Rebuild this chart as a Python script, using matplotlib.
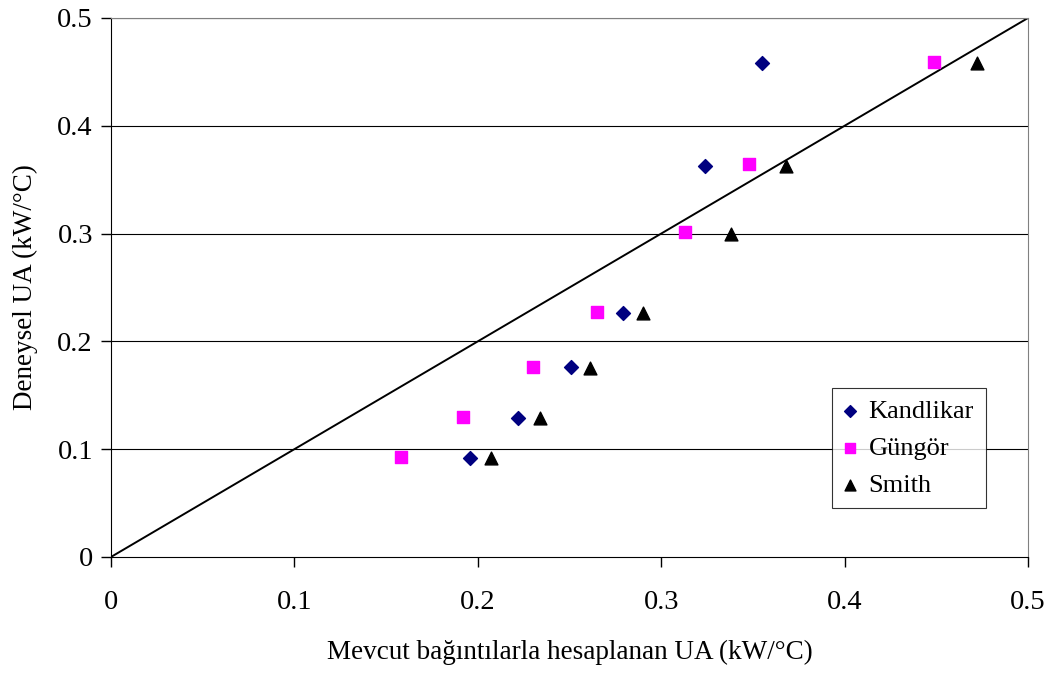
import matplotlib

matplotlib.use("Agg")
import matplotlib.pyplot as plt

# Values
kandlikar_x = [0.355, 0.324, 0.279, 0.251, 0.222, 0.196]
kandlikar_y = [0.458, 0.363, 0.226, 0.176, 0.129, 0.092]

gungor_x = [0.449, 0.348, 0.313, 0.265, 0.230, 0.192, 0.158]
gungor_y = [0.459, 0.365, 0.301, 0.227, 0.176, 0.130, 0.093]

smith_x = [0.472, 0.368, 0.338, 0.290, 0.261, 0.234, 0.207]
smith_y = [0.458, 0.363, 0.300, 0.226, 0.175, 0.129, 0.092]

ticks = [0, 0.1, 0.2, 0.3, 0.4, 0.5]
tick_labels = ["0", "0.1", "0.2", "0.3", "0.4", "0.5"]

plt.rcParams["font.family"] = ["Liberation Serif", "DejaVu Serif"]

fig = plt.figure(figsize=(10.49, 6.73), dpi=100)
ax = fig.add_axes([0.1058, 0.1724, 0.8742, 0.8009])

# gridlines
for t in ticks[1:]:
    ax.axhline(t, color="#000000", lw=0.8, zorder=1)

# y = x reference line
ax.plot([0, 0.5], [0, 0.5], color="black", lw=1.4, zorder=2)

ax.scatter(kandlikar_x, kandlikar_y, marker="D", s=50, color="#000080",
           label="Kandlikar", zorder=3)
ax.scatter(gungor_x, gungor_y, marker="s", s=65, color="#FF00FF",
           label="Güngör", zorder=3)
ax.scatter(smith_x, smith_y, marker="^", s=85, color="black",
           label="Smith", zorder=3)

ax.set_xlim(0, 0.5)
ax.set_ylim(0, 0.5)
ax.set_xticks(ticks)
ax.set_xticklabels(tick_labels)
ax.set_yticks(ticks)
ax.set_yticklabels(tick_labels)
ax.tick_params(axis="both", labelsize=20.5, direction="out", length=7,
               width=1, color="black")
ax.tick_params(axis="x", pad=17)
ax.tick_params(axis="y", pad=6)

ax.spines["left"].set_color("black")
ax.spines["bottom"].set_color("black")
ax.spines["top"].set_color("#808080")
ax.spines["right"].set_color("#808080")

ax.set_xlabel("Mevcut bağıntılarla hesaplanan UA (kW/°C)", fontsize=19.5,
              labelpad=18)
ax.set_ylabel("Deneysel UA (kW/°C)", fontsize=19.5, labelpad=14)

leg = ax.legend(loc="lower right", bbox_to_anchor=(0.954, 0.09),
                fontsize=19, frameon=True, fancybox=False, edgecolor="black",
                handlelength=0.5, handletextpad=0.45, borderpad=0.45,
                labelspacing=0.5, borderaxespad=0, markerscale=0.85)
leg.get_frame().set_linewidth(0.8)

fig.savefig("out.png", dpi=100)
